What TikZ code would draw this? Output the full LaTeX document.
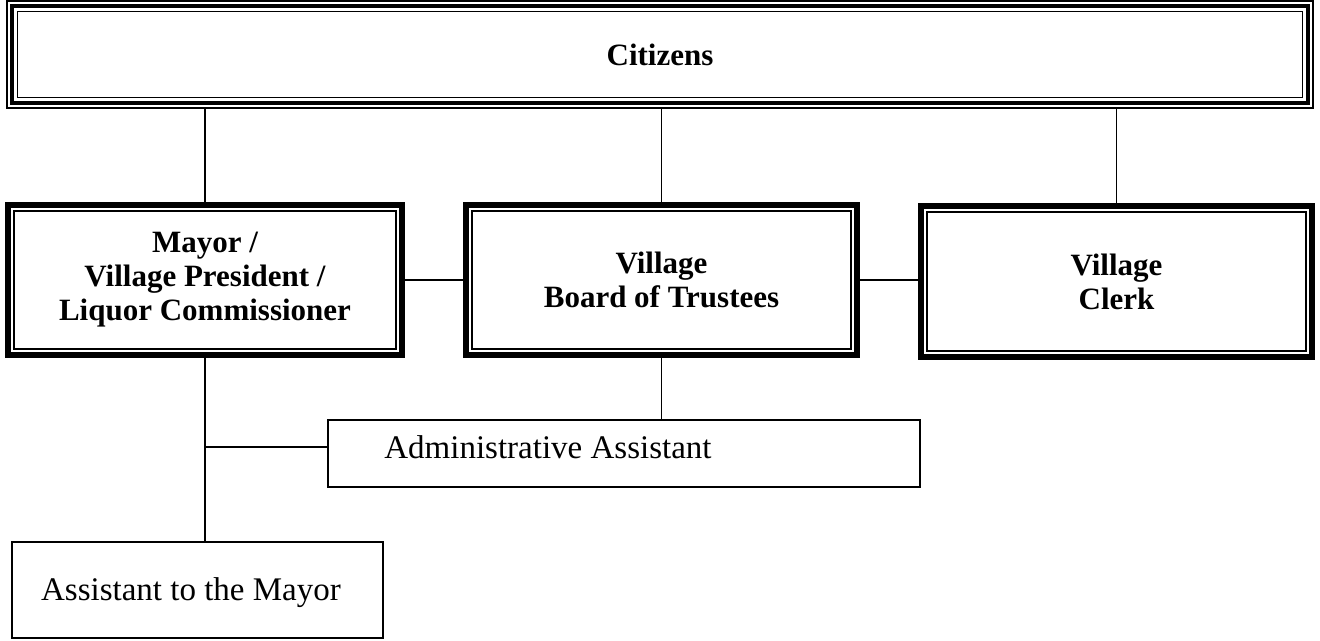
\documentclass[tikz,border=0pt]{standalone}
\usepackage{fontspec}
\setmainfont{Liberation Serif}
\begin{document}
\begin{tikzpicture}[x=1pt,y=-1pt,
  box/.style={draw, line width=1.6pt, inner sep=0pt, outer sep=0pt,
    anchor=north west, align=center, font=\fontsize{32}{34}\selectfont},
  office/.style={box, line width=5.5pt, font=\bfseries\fontsize{31}{34}\selectfont},
  caption/.style={font=\fontsize{33}{35}\selectfont, inner sep=0pt},
  rule/.style={line width=1.3pt},
  conn/.style={line width=1.8pt}]
\useasboundingbox (0,0) rectangle (1320,640);

% citizens banner with a triple border
\node[box, line width=2pt, minimum width=1306pt, minimum height=107pt,
  font=\bfseries\fontsize{31}{34}\selectfont] (cit) at (7,1) {Citizens};
\draw[line width=4.5pt] ([shift={(5pt,-5pt)}]cit.north west) rectangle ([shift={(-5pt,5pt)}]cit.south east);
\draw[rule, line width=1.6pt] ([shift={(10.5pt,-10.5pt)}]cit.north west) rectangle ([shift={(-10.5pt,10.5pt)}]cit.south east);

% elected offices
\node[office, minimum width=394pt, minimum height=150pt] (mayor) at (8,205)
  {Mayor /\\Village President /\\Liquor Commissioner};
\node[office, minimum width=391pt, minimum height=150pt] (board) at (466,205)
  {Village\\Board of Trustees};
\node[office, minimum width=391pt, minimum height=151pt] (clerk) at (921,206)
  {Village\\Clerk};
\foreach \n in {mayor,board,clerk}
  \draw[rule] ([shift={(6pt,-6pt)}]\n.north west) rectangle ([shift={(-6pt,6pt)}]\n.south east);

% staff
\node[box, minimum width=592pt, minimum height=67pt] (admin) at (328,420) {};
\node[caption] (admintext) at (548,447) {Administrative Assistant};
\node[box, minimum width=371pt, minimum height=96pt] (asst) at (12,542) {};
\node[caption, anchor=base] (assttext) at (191,600) {Assistant to the Mayor};

% connectors
\draw[conn] (mayor.north |- cit.south) -- (mayor.north);
\draw[conn] (board.north |- cit.south) -- (board.north);
\draw[conn] (clerk.north |- cit.south) -- (clerk.north);
\draw[conn] (mayor.east) -- (board.west);
\draw[conn] (board.east) -- (board.east -| clerk.west);
\draw[conn] (board.south) -- (board.south |- admin.north);
\draw[conn] (mayor.south) -- (mayor.south |- asst.north);
\coordinate (tap) at (mayor.south |- admintext.center);
\draw[conn] (tap) -- (tap -| admin.west);
\end{tikzpicture}
\end{document}
